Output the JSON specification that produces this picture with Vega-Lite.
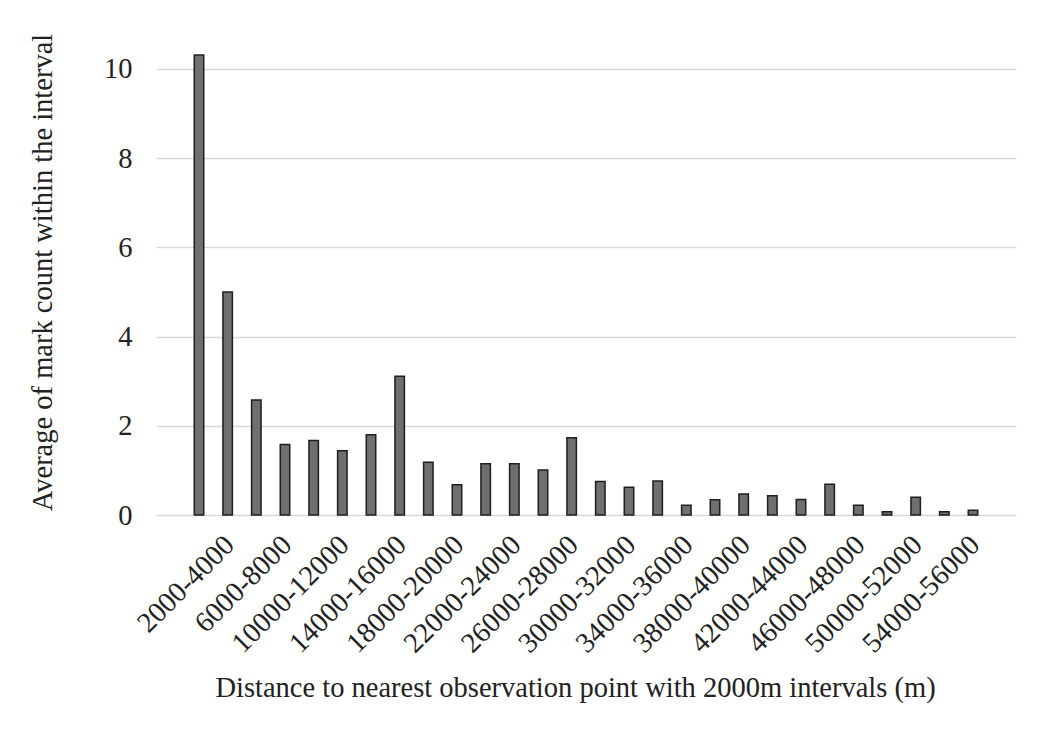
{
  "$schema": "https://vega.github.io/schema/vega-lite/v6.json",
  "autosize": {"type": "none"},
  "padding": {"left": 156, "top": 51, "right": 30, "bottom": 234},
  "width": 860,
  "height": 464,
  "background": "white",
  "config": {
    "view": {"stroke": null},
    "font": "Liberation Serif"
  },
  "data": {
    "values": [
      {"interval": "0-2000", "avg": 10.31},
      {"interval": "2000-4000", "avg": 5.0},
      {"interval": "4000-6000", "avg": 2.58},
      {"interval": "6000-8000", "avg": 1.58},
      {"interval": "8000-10000", "avg": 1.67},
      {"interval": "10000-12000", "avg": 1.44},
      {"interval": "12000-14000", "avg": 1.8},
      {"interval": "14000-16000", "avg": 3.11},
      {"interval": "16000-18000", "avg": 1.18},
      {"interval": "18000-20000", "avg": 0.68},
      {"interval": "20000-22000", "avg": 1.15},
      {"interval": "22000-24000", "avg": 1.15},
      {"interval": "24000-26000", "avg": 1.01},
      {"interval": "26000-28000", "avg": 1.73},
      {"interval": "28000-30000", "avg": 0.75},
      {"interval": "30000-32000", "avg": 0.62},
      {"interval": "32000-34000", "avg": 0.76},
      {"interval": "34000-36000", "avg": 0.22},
      {"interval": "36000-38000", "avg": 0.34},
      {"interval": "38000-40000", "avg": 0.47},
      {"interval": "40000-42000", "avg": 0.43},
      {"interval": "42000-44000", "avg": 0.35},
      {"interval": "44000-46000", "avg": 0.69},
      {"interval": "46000-48000", "avg": 0.22},
      {"interval": "48000-50000", "avg": 0.075},
      {"interval": "50000-52000", "avg": 0.4},
      {"interval": "52000-54000", "avg": 0.075},
      {"interval": "54000-56000", "avg": 0.105}
    ]
  },
  "mark": {"type": "bar", "fill": "#6f6e71", "stroke": "#1e1e1e", "strokeWidth": 1.5, "width": {"band": 0.33}},
  "encoding": {
    "x": {
      "field": "interval",
      "type": "nominal",
      "sort": null,
      "scale": {"paddingInner": 0, "paddingOuter": 1},
      "axis": {
        "values": ["2000-4000", "6000-8000", "10000-12000", "14000-16000", "18000-20000", "22000-24000", "26000-28000", "30000-32000", "34000-36000", "38000-40000", "42000-44000", "46000-48000", "50000-52000", "54000-56000"],
        "labelAngle": -45,
        "labelFontSize": 28.5,
        "labelColor": "#222222",
        "labelPadding": 15,
        "labelOffset": -8,
        "ticks": false,
        "domain": false,
        "title": "Distance to nearest observation point with 2000m intervals (m)",
        "titleFontSize": 28.5,
        "titleFontWeight": "normal",
        "titleColor": "#222222",
        "titlePadding": 16,
        "titleX": 419
      }
    },
    "y": {
      "field": "avg",
      "type": "quantitative",
      "scale": {"domain": [0, 10.4], "nice": false},
      "axis": {
        "values": [0, 2, 4, 6, 8, 10],
        "labelFontSize": 28.5,
        "labelColor": "#222222",
        "labelPadding": 24,
        "ticks": false,
        "domain": false,
        "gridColor": "#d9d9d9",
        "gridWidth": 1.5,
        "title": "Average of mark count within the interval",
        "titleFontSize": 28.5,
        "titleFontWeight": "normal",
        "titleColor": "#222222",
        "titlePadding": 46,
        "titleY": 221
      }
    }
  }
}
